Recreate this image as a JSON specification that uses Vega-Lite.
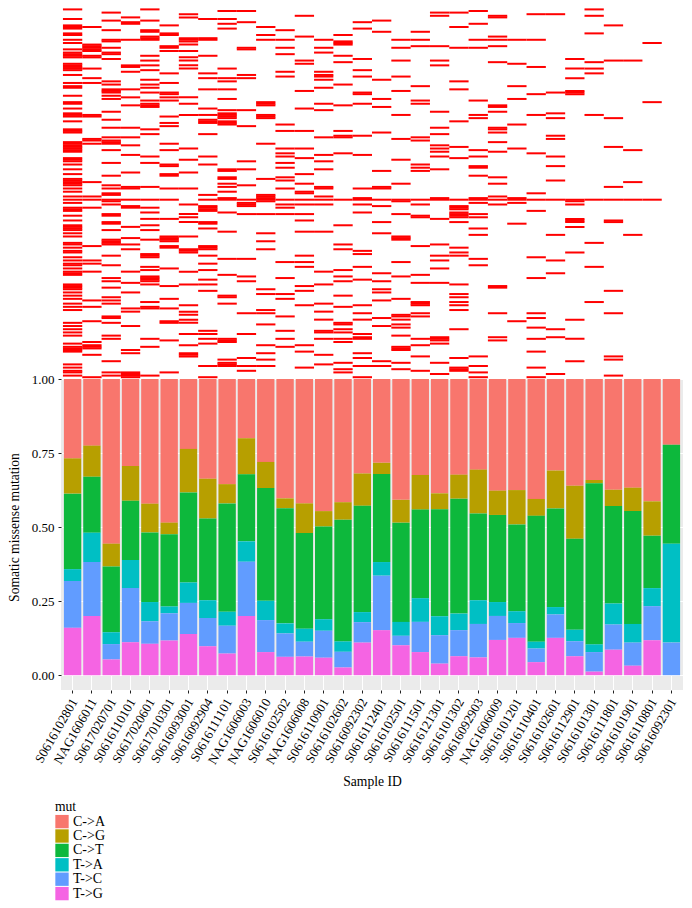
{"$schema":"https://vega.github.io/schema/vega-lite/v6.json","background":"white","padding":{"left":7,"top":7,"right":0,"bottom":0},"spacing":1,"bounds":"flush","config":{"font":"Liberation Serif","view":{"stroke":null}},
"datasets":{"tiles":[
{"c":0,"r":1},{"c":0,"r":7},{"c":0,"r":11},{"c":0,"r":12},{"c":0,"r":13},{"c":0,"r":16},{"c":0,"r":17},{"c":0,"r":20},{"c":0,"r":22},{"c":0,"r":26},{"c":0,"r":28},{"c":0,"r":29},{"c":0,"r":30},{"c":0,"r":31},{"c":0,"r":35},{"c":0,"r":36},{"c":0,"r":37},{"c":0,"r":38},{"c":0,"r":39},{"c":0,"r":42},{"c":0,"r":47},{"c":0,"r":49},{"c":0,"r":50},{"c":0,"r":55},{"c":0,"r":59},{"c":0,"r":60},{"c":0,"r":63},{"c":0,"r":66},{"c":0,"r":67},{"c":0,"r":68},{"c":0,"r":71},{"c":0,"r":76},{"c":0,"r":77},{"c":0,"r":78},{"c":0,"r":84},{"c":0,"r":85},{"c":0,"r":86},{"c":0,"r":87},{"c":0,"r":88},{"c":0,"r":89},{"c":0,"r":90},{"c":0,"r":94},{"c":0,"r":95},{"c":0,"r":96},{"c":0,"r":98},{"c":0,"r":101},{"c":0,"r":104},{"c":0,"r":107},{"c":0,"r":108},{"c":0,"r":109},{"c":0,"r":110},{"c":0,"r":111},{"c":0,"r":113},
{"c":0,"r":115},{"c":0,"r":118},{"c":0,"r":120},{"c":0,"r":122},{"c":0,"r":125},{"c":0,"r":126},{"c":0,"r":127},{"c":0,"r":130},{"c":0,"r":133},{"c":0,"r":136},{"c":0,"r":137},{"c":0,"r":138},{"c":0,"r":139},{"c":0,"r":141},{"c":0,"r":143},{"c":0,"r":147},{"c":0,"r":148},{"c":0,"r":150},{"c":0,"r":152},{"c":0,"r":153},{"c":0,"r":156},{"c":0,"r":158},{"c":0,"r":160},{"c":0,"r":161},{"c":0,"r":163},{"c":0,"r":165},{"c":0,"r":166},{"c":0,"r":167},{"c":0,"r":173},{"c":0,"r":174},{"c":0,"r":175},{"c":0,"r":176},{"c":0,"r":178},{"c":0,"r":180},{"c":0,"r":182},{"c":0,"r":185},{"c":0,"r":187},{"c":0,"r":189},{"c":0,"r":197},{"c":0,"r":199},{"c":0,"r":201},{"c":0,"r":203},{"c":0,"r":205},{"c":0,"r":210},{"c":0,"r":212},{"c":0,"r":213},{"c":0,"r":214},{"c":0,"r":215},{"c":0,"r":223},{"c":0,"r":225},{"c":0,"r":227},{"c":0,"r":228},{"c":0,"r":230},
{"c":1,"r":12},{"c":1,"r":23},{"c":1,"r":24},{"c":1,"r":25},{"c":1,"r":26},{"c":1,"r":27},{"c":1,"r":30},{"c":1,"r":31},{"c":1,"r":38},{"c":1,"r":44},{"c":1,"r":47},{"c":1,"r":67},{"c":1,"r":68},{"c":1,"r":82},{"c":1,"r":83},{"c":1,"r":85},{"c":1,"r":109},{"c":1,"r":118},{"c":1,"r":120},{"c":1,"r":125},{"c":1,"r":149},{"c":1,"r":158},{"c":1,"r":160},{"c":1,"r":165},{"c":1,"r":183},{"c":1,"r":187},{"c":1,"r":196},{"c":1,"r":209},{"c":1,"r":211},{"c":1,"r":212},{"c":1,"r":213},{"c":1,"r":217},{"c":1,"r":231},
{"c":2,"r":3},{"c":2,"r":8},{"c":2,"r":14},{"c":2,"r":20},{"c":2,"r":21},{"c":2,"r":25},{"c":2,"r":28},{"c":2,"r":29},{"c":2,"r":32},{"c":2,"r":46},{"c":2,"r":48},{"c":2,"r":51},{"c":2,"r":52},{"c":2,"r":53},{"c":2,"r":55},{"c":2,"r":57},{"c":2,"r":65},{"c":2,"r":70},{"c":2,"r":75},{"c":2,"r":81},{"c":2,"r":83},{"c":2,"r":84},{"c":2,"r":85},{"c":2,"r":89},{"c":2,"r":97},{"c":2,"r":105},{"c":2,"r":111},{"c":2,"r":113},{"c":2,"r":116},{"c":2,"r":117},{"c":2,"r":120},{"c":2,"r":121},{"c":2,"r":123},{"c":2,"r":129},{"c":2,"r":130},{"c":2,"r":134},{"c":2,"r":135},{"c":2,"r":139},{"c":2,"r":145},{"c":2,"r":146},{"c":2,"r":147},{"c":2,"r":148},{"c":2,"r":155},{"c":2,"r":161},{"c":2,"r":169},{"c":2,"r":171},{"c":2,"r":175},{"c":2,"r":181},{"c":2,"r":183},{"c":2,"r":185},{"c":2,"r":193},{"c":2,"r":194},{"c":2,"r":197},{"c":2,"r":205},{"c":2,"r":207},{"c":2,"r":221},{"c":2,"r":228},{"c":2,"r":230},
{"c":3,"r":6},{"c":3,"r":9},{"c":3,"r":10},{"c":3,"r":20},{"c":3,"r":36},{"c":3,"r":37},{"c":3,"r":40},{"c":3,"r":51},{"c":3,"r":56},{"c":3,"r":61},{"c":3,"r":75},{"c":3,"r":81},{"c":3,"r":86},{"c":3,"r":92},{"c":3,"r":103},{"c":3,"r":112},{"c":3,"r":113},{"c":3,"r":120},{"c":3,"r":124},{"c":3,"r":125},{"c":3,"r":137},{"c":3,"r":144},{"c":3,"r":148},{"c":3,"r":151},{"c":3,"r":165},{"c":3,"r":172},{"c":3,"r":178},{"c":3,"r":188},{"c":3,"r":190},{"c":3,"r":199},{"c":3,"r":214},{"c":3,"r":216},{"c":3,"r":228},{"c":3,"r":229},{"c":3,"r":230},{"c":3,"r":231},
{"c":4,"r":1},{"c":4,"r":8},{"c":4,"r":14},{"c":4,"r":15},{"c":4,"r":18},{"c":4,"r":19},{"c":4,"r":20},{"c":4,"r":30},{"c":4,"r":33},{"c":4,"r":36},{"c":4,"r":39},{"c":4,"r":45},{"c":4,"r":48},{"c":4,"r":50},{"c":4,"r":53},{"c":4,"r":58},{"c":4,"r":60},{"c":4,"r":61},{"c":4,"r":62},{"c":4,"r":76},{"c":4,"r":79},{"c":4,"r":93},{"c":4,"r":97},{"c":4,"r":112},{"c":4,"r":120},{"c":4,"r":125},{"c":4,"r":128},{"c":4,"r":132},{"c":4,"r":136},{"c":4,"r":139},{"c":4,"r":145},{"c":4,"r":154},{"c":4,"r":155},{"c":4,"r":156},{"c":4,"r":162},{"c":4,"r":164},{"c":4,"r":168},{"c":4,"r":169},{"c":4,"r":170},{"c":4,"r":171},{"c":4,"r":173},{"c":4,"r":184},{"c":4,"r":187},{"c":4,"r":188},{"c":4,"r":207},{"c":4,"r":212},{"c":4,"r":230},
{"c":5,"r":11},{"c":5,"r":16},{"c":5,"r":17},{"c":5,"r":24},{"c":5,"r":25},{"c":5,"r":27},{"c":5,"r":41},{"c":5,"r":47},{"c":5,"r":53},{"c":5,"r":54},{"c":5,"r":56},{"c":5,"r":58},{"c":5,"r":68},{"c":5,"r":72},{"c":5,"r":74},{"c":5,"r":85},{"c":5,"r":89},{"c":5,"r":98},{"c":5,"r":99},{"c":5,"r":104},{"c":5,"r":105},{"c":5,"r":113},{"c":5,"r":120},{"c":5,"r":132},{"c":5,"r":143},{"c":5,"r":144},{"c":5,"r":145},{"c":5,"r":146},{"c":5,"r":149},{"c":5,"r":150},{"c":5,"r":163},{"c":5,"r":174},{"c":5,"r":182},{"c":5,"r":188},{"c":5,"r":196},{"c":5,"r":197},{"c":5,"r":208},{"c":5,"r":228},
{"c":6,"r":4},{"c":6,"r":6},{"c":6,"r":19},{"c":6,"r":20},{"c":6,"r":21},{"c":6,"r":23},{"c":6,"r":27},{"c":6,"r":31},{"c":6,"r":33},{"c":6,"r":36},{"c":6,"r":38},{"c":6,"r":56},{"c":6,"r":60},{"c":6,"r":67},{"c":6,"r":88},{"c":6,"r":95},{"c":6,"r":103},{"c":6,"r":113},{"c":6,"r":123},{"c":6,"r":129},{"c":6,"r":131},{"c":6,"r":134},{"c":6,"r":143},{"c":6,"r":151},{"c":6,"r":152},{"c":6,"r":153},{"c":6,"r":165},{"c":6,"r":173},{"c":6,"r":186},{"c":6,"r":190},{"c":6,"r":192},{"c":6,"r":195},{"c":6,"r":197},{"c":6,"r":204},{"c":6,"r":211},{"c":6,"r":216},{"c":6,"r":217},{"c":6,"r":218},
{"c":7,"r":7},{"c":7,"r":19},{"c":7,"r":20},{"c":7,"r":30},{"c":7,"r":41},{"c":7,"r":44},{"c":7,"r":51},{"c":7,"r":63},{"c":7,"r":67},{"c":7,"r":70},{"c":7,"r":71},{"c":7,"r":72},{"c":7,"r":79},{"c":7,"r":93},{"c":7,"r":98},{"c":7,"r":117},{"c":7,"r":120},{"c":7,"r":124},{"c":7,"r":125},{"c":7,"r":126},{"c":7,"r":127},{"c":7,"r":134},{"c":7,"r":135},{"c":7,"r":138},{"c":7,"r":149},{"c":7,"r":150},{"c":7,"r":151},{"c":7,"r":155},{"c":7,"r":160},{"c":7,"r":164},{"c":7,"r":170},{"c":7,"r":173},{"c":7,"r":177},{"c":7,"r":202},{"c":7,"r":204},{"c":7,"r":207},{"c":7,"r":210},{"c":7,"r":224},{"c":7,"r":231},
{"c":8,"r":2},{"c":8,"r":7},{"c":8,"r":10},{"c":8,"r":13},{"c":8,"r":38},{"c":8,"r":44},{"c":8,"r":46},{"c":8,"r":51},{"c":8,"r":57},{"c":8,"r":64},{"c":8,"r":66},{"c":8,"r":67},{"c":8,"r":68},{"c":8,"r":69},{"c":8,"r":71},{"c":8,"r":72},{"c":8,"r":73},{"c":8,"r":101},{"c":8,"r":102},{"c":8,"r":106},{"c":8,"r":107},{"c":8,"r":110},{"c":8,"r":112},{"c":8,"r":115},{"c":8,"r":119},{"c":8,"r":120},{"c":8,"r":128},{"c":8,"r":140},{"c":8,"r":157},{"c":8,"r":167},{"c":8,"r":180},{"c":8,"r":181},{"c":8,"r":185},{"c":8,"r":207},{"c":8,"r":208},{"c":8,"r":209},{"c":8,"r":220},{"c":8,"r":222},{"c":8,"r":223},{"c":8,"r":224},
{"c":9,"r":2},{"c":9,"r":9},{"c":9,"r":25},{"c":9,"r":26},{"c":9,"r":42},{"c":9,"r":44},{"c":9,"r":64},{"c":9,"r":74},{"c":9,"r":96},{"c":9,"r":101},{"c":9,"r":111},{"c":9,"r":120},{"c":9,"r":122},{"c":9,"r":123},{"c":9,"r":124},{"c":9,"r":129},{"c":9,"r":157},{"c":9,"r":168},{"c":9,"r":171},{"c":9,"r":191},{"c":9,"r":204},{"c":9,"r":219},{"c":9,"r":224},{"c":9,"r":227},
{"c":10,"r":12},{"c":10,"r":17},{"c":10,"r":20},{"c":10,"r":59},{"c":10,"r":60},{"c":10,"r":61},{"c":10,"r":67},{"c":10,"r":68},{"c":10,"r":69},{"c":10,"r":85},{"c":10,"r":107},{"c":10,"r":117},{"c":10,"r":118},{"c":10,"r":119},{"c":10,"r":120},{"c":10,"r":121},{"c":10,"r":129},{"c":10,"r":141},{"c":10,"r":146},{"c":10,"r":151},{"c":10,"r":176},{"c":10,"r":179},{"c":10,"r":189},{"c":10,"r":191},{"c":10,"r":198},{"c":10,"r":211},{"c":10,"r":216},{"c":10,"r":220},{"c":10,"r":224},
{"c":11,"r":14},{"c":11,"r":20},{"c":11,"r":25},{"c":11,"r":29},{"c":11,"r":40},{"c":11,"r":43},{"c":11,"r":73},{"c":11,"r":77},{"c":11,"r":88},{"c":11,"r":91},{"c":11,"r":93},{"c":11,"r":97},{"c":11,"r":100},{"c":11,"r":106},{"c":11,"r":108},{"c":11,"r":113},{"c":11,"r":120},{"c":11,"r":123},{"c":11,"r":125},{"c":11,"r":129},{"c":11,"r":159},{"c":11,"r":169},{"c":11,"r":179},{"c":11,"r":182},{"c":11,"r":193},{"c":11,"r":202},{"c":11,"r":207},{"c":11,"r":212},
{"c":12,"r":5},{"c":12,"r":18},{"c":12,"r":33},{"c":12,"r":35},{"c":12,"r":52},{"c":12,"r":63},{"c":12,"r":77},{"c":12,"r":88},{"c":12,"r":94},{"c":12,"r":104},{"c":12,"r":110},{"c":12,"r":115},{"c":12,"r":116},{"c":12,"r":120},{"c":12,"r":123},{"c":12,"r":129},{"c":12,"r":133},{"c":12,"r":140},{"c":12,"r":155},{"c":12,"r":159},{"c":12,"r":162},{"c":12,"r":174},{"c":12,"r":177},{"c":12,"r":186},{"c":12,"r":211},{"c":12,"r":215},{"c":12,"r":225},
{"c":13,"r":20},{"c":13,"r":25},{"c":13,"r":28},{"c":13,"r":40},{"c":13,"r":42},{"c":13,"r":43},{"c":13,"r":45},{"c":13,"r":50},{"c":13,"r":60},{"c":13,"r":64},{"c":13,"r":81},{"c":13,"r":92},{"c":13,"r":96},{"c":13,"r":101},{"c":13,"r":112},{"c":13,"r":113},{"c":13,"r":118},{"c":13,"r":120},{"c":13,"r":123},{"c":13,"r":140},{"c":13,"r":165},{"c":13,"r":173},{"c":13,"r":185},{"c":13,"r":190},{"c":13,"r":195},{"c":13,"r":202},{"c":13,"r":203},{"c":13,"r":207},{"c":13,"r":217},{"c":13,"r":223},
{"c":14,"r":17},{"c":14,"r":21},{"c":14,"r":22},{"c":14,"r":23},{"c":14,"r":30},{"c":14,"r":34},{"c":14,"r":48},{"c":14,"r":61},{"c":14,"r":77},{"c":14,"r":80},{"c":14,"r":81},{"c":14,"r":91},{"c":14,"r":120},{"c":14,"r":136},{"c":14,"r":148},{"c":14,"r":151},{"c":14,"r":164},{"c":14,"r":168},{"c":14,"r":171},{"c":14,"r":180},{"c":14,"r":187},{"c":14,"r":197},{"c":14,"r":198},{"c":14,"r":201},{"c":14,"r":203},{"c":14,"r":207},{"c":14,"r":209},{"c":14,"r":222},{"c":14,"r":226},{"c":14,"r":228},
{"c":15,"r":9},{"c":15,"r":13},{"c":15,"r":32},{"c":15,"r":39},{"c":15,"r":43},{"c":15,"r":53},{"c":15,"r":54},{"c":15,"r":60},{"c":15,"r":80},{"c":15,"r":92},{"c":15,"r":113},{"c":15,"r":119},{"c":15,"r":120},{"c":15,"r":123},{"c":15,"r":128},{"c":15,"r":152},{"c":15,"r":154},{"c":15,"r":162},{"c":15,"r":170},{"c":15,"r":186},{"c":15,"r":191},{"c":15,"r":195},{"c":15,"r":204},{"c":15,"r":206},{"c":15,"r":207},{"c":15,"r":216},{"c":15,"r":219},{"c":15,"r":224},{"c":15,"r":231},
{"c":16,"r":8},{"c":16,"r":15},{"c":16,"r":45},{"c":16,"r":57},{"c":16,"r":62},{"c":16,"r":78},{"c":16,"r":102},{"c":16,"r":112},{"c":16,"r":113},{"c":16,"r":120},{"c":16,"r":124},{"c":16,"r":134},{"c":16,"r":141},{"c":16,"r":166},{"c":16,"r":171},{"c":16,"r":176},{"c":16,"r":178},{"c":16,"r":183},{"c":16,"r":194},{"c":16,"r":199},{"c":16,"r":221},{"c":16,"r":224},
{"c":17,"r":20},{"c":17,"r":25},{"c":17,"r":33},{"c":17,"r":43},{"c":17,"r":52},{"c":17,"r":67},{"c":17,"r":82},{"c":17,"r":95},{"c":17,"r":110},{"c":17,"r":120},{"c":17,"r":121},{"c":17,"r":129},{"c":17,"r":143},{"c":17,"r":144},{"c":17,"r":145},{"c":17,"r":159},{"c":17,"r":168},{"c":17,"r":182},{"c":17,"r":192},{"c":17,"r":193},{"c":17,"r":195},{"c":17,"r":198},{"c":17,"r":200},{"c":17,"r":205},{"c":17,"r":212},{"c":17,"r":213},{"c":17,"r":214},{"c":17,"r":222},{"c":17,"r":226},
{"c":18,"r":15},{"c":18,"r":20},{"c":18,"r":24},{"c":18,"r":49},{"c":18,"r":58},{"c":18,"r":60},{"c":18,"r":81},{"c":18,"r":83},{"c":18,"r":98},{"c":18,"r":100},{"c":18,"r":102},{"c":18,"r":120},{"c":18,"r":123},{"c":18,"r":130},{"c":18,"r":131},{"c":18,"r":149},{"c":18,"r":167},{"c":18,"r":172},{"c":18,"r":184},{"c":18,"r":185},{"c":18,"r":186},{"c":18,"r":191},{"c":18,"r":193},{"c":18,"r":207},{"c":18,"r":211},{"c":18,"r":218},{"c":18,"r":227},
{"c":19,"r":3},{"c":19,"r":5},{"c":19,"r":24},{"c":19,"r":33},{"c":19,"r":36},{"c":19,"r":65},{"c":19,"r":75},{"c":19,"r":79},{"c":19,"r":86},{"c":19,"r":88},{"c":19,"r":90},{"c":19,"r":93},{"c":19,"r":101},{"c":19,"r":119},{"c":19,"r":120},{"c":19,"r":132},{"c":19,"r":148},{"c":19,"r":155},{"c":19,"r":158},{"c":19,"r":163},{"c":19,"r":172},{"c":19,"r":206},{"c":19,"r":207},{"c":19,"r":208},{"c":19,"r":210},{"c":19,"r":222},{"c":19,"r":229},
{"c":20,"r":3},{"c":20,"r":12},{"c":20,"r":25},{"c":20,"r":46},{"c":20,"r":51},{"c":20,"r":71},{"c":20,"r":87},{"c":20,"r":94},{"c":20,"r":120},{"c":20,"r":124},{"c":20,"r":125},{"c":20,"r":126},{"c":20,"r":128},{"c":20,"r":129},{"c":20,"r":130},{"c":20,"r":131},{"c":20,"r":134},{"c":20,"r":150},{"c":20,"r":153},{"c":20,"r":155},{"c":20,"r":173},{"c":20,"r":179},{"c":20,"r":181},{"c":20,"r":184},{"c":20,"r":186},{"c":20,"r":189},{"c":20,"r":201},{"c":20,"r":219},{"c":20,"r":225},{"c":20,"r":226},{"c":20,"r":227},
{"c":21,"r":2},{"c":21,"r":10},{"c":21,"r":20},{"c":21,"r":25},{"c":21,"r":58},{"c":21,"r":67},{"c":21,"r":69},{"c":21,"r":89},{"c":21,"r":93},{"c":21,"r":99},{"c":21,"r":100},{"c":21,"r":105},{"c":21,"r":119},{"c":21,"r":120},{"c":21,"r":122},{"c":21,"r":129},{"c":21,"r":131},{"c":21,"r":138},{"c":21,"r":142},{"c":21,"r":157},{"c":21,"r":161},{"c":21,"r":218},{"c":21,"r":224},{"c":21,"r":228},{"c":21,"r":231},
{"c":22,"r":5},{"c":22,"r":6},{"c":22,"r":18},{"c":22,"r":20},{"c":22,"r":24},{"c":22,"r":34},{"c":22,"r":61},{"c":22,"r":62},{"c":22,"r":65},{"c":22,"r":75},{"c":22,"r":76},{"c":22,"r":78},{"c":22,"r":84},{"c":22,"r":90},{"c":22,"r":106},{"c":22,"r":110},{"c":22,"r":118},{"c":22,"r":120},{"c":22,"r":123},{"c":22,"r":174},{"c":22,"r":175},{"c":22,"r":191},{"c":22,"r":206},{"c":22,"r":208},
{"c":23,"r":20},{"c":23,"r":35},{"c":23,"r":49},{"c":23,"r":57},{"c":23,"r":73},{"c":23,"r":88},{"c":23,"r":119},{"c":23,"r":120},{"c":23,"r":122},{"c":23,"r":135},{"c":23,"r":196},
{"c":24,"r":4},{"c":24,"r":20},{"c":24,"r":37},{"c":24,"r":54},{"c":24,"r":67},{"c":24,"r":91},{"c":24,"r":116},{"c":24,"r":120},{"c":24,"r":127},{"c":24,"r":156},{"c":24,"r":169},{"c":24,"r":191},{"c":24,"r":194},{"c":24,"r":200},{"c":24,"r":207},{"c":24,"r":215},{"c":24,"r":225},{"c":24,"r":231},
{"c":25,"r":4},{"c":25,"r":53},{"c":25,"r":66},{"c":25,"r":69},{"c":25,"r":80},{"c":25,"r":82},{"c":25,"r":93},{"c":25,"r":99},{"c":25,"r":108},{"c":25,"r":120},{"c":25,"r":142},{"c":25,"r":158},{"c":25,"r":166},{"c":25,"r":201},{"c":25,"r":206},{"c":25,"r":229},
{"c":26,"r":32},{"c":26,"r":38},{"c":26,"r":44},{"c":26,"r":52},{"c":26,"r":53},{"c":26,"r":54},{"c":26,"r":120},{"c":26,"r":121},{"c":26,"r":123},{"c":26,"r":132},{"c":26,"r":133},{"c":26,"r":134},{"c":26,"r":137},{"c":26,"r":153},{"c":26,"r":195},{"c":26,"r":207},{"c":26,"r":221},
{"c":27,"r":1},{"c":27,"r":5},{"c":27,"r":16},{"c":27,"r":34},{"c":27,"r":38},{"c":27,"r":41},{"c":27,"r":67},{"c":27,"r":120},{"c":27,"r":147},{"c":27,"r":162},{"c":27,"r":184},
{"c":28,"r":11},{"c":28,"r":33},{"c":28,"r":69},{"c":28,"r":87},{"c":28,"r":112},{"c":28,"r":120},{"c":28,"r":133},{"c":28,"r":134},{"c":28,"r":177},{"c":28,"r":191},{"c":28,"r":218},{"c":28,"r":220},{"c":28,"r":230},
{"c":29,"r":33},{"c":29,"r":89},{"c":29,"r":109},{"c":29,"r":120},{"c":29,"r":142},
{"c":30,"r":22},{"c":30,"r":59},{"c":30,"r":120}
],"bars":[
{"s":"S0616102801","m":"C->A","v":0.268},{"s":"S0616102801","m":"C->G","v":0.119},{"s":"S0616102801","m":"C->T","v":0.255},{"s":"S0616102801","m":"T->A","v":0.040},{"s":"S0616102801","m":"T->C","v":0.158},{"s":"S0616102801","m":"T->G","v":0.160},
{"s":"NAG1606011","m":"C->A","v":0.225},{"s":"NAG1606011","m":"C->G","v":0.105},{"s":"NAG1606011","m":"C->T","v":0.189},{"s":"NAG1606011","m":"T->A","v":0.099},{"s":"NAG1606011","m":"T->C","v":0.182},{"s":"NAG1606011","m":"T->G","v":0.200},
{"s":"S0617020701","m":"C->A","v":0.556},{"s":"S0617020701","m":"C->G","v":0.077},{"s":"S0617020701","m":"C->T","v":0.222},{"s":"S0617020701","m":"T->A","v":0.040},{"s":"S0617020701","m":"T->C","v":0.052},{"s":"S0617020701","m":"T->G","v":0.053},
{"s":"S0616110101","m":"C->A","v":0.294},{"s":"S0616110101","m":"C->G","v":0.117},{"s":"S0616110101","m":"C->T","v":0.200},{"s":"S0616110101","m":"T->A","v":0.095},{"s":"S0616110101","m":"T->C","v":0.183},{"s":"S0616110101","m":"T->G","v":0.111},
{"s":"S0617020601","m":"C->A","v":0.421},{"s":"S0617020601","m":"C->G","v":0.097},{"s":"S0617020601","m":"C->T","v":0.235},{"s":"S0617020601","m":"T->A","v":0.065},{"s":"S0617020601","m":"T->C","v":0.076},{"s":"S0617020601","m":"T->G","v":0.106},
{"s":"S0617010301","m":"C->A","v":0.485},{"s":"S0617010301","m":"C->G","v":0.039},{"s":"S0617010301","m":"C->T","v":0.244},{"s":"S0617010301","m":"T->A","v":0.023},{"s":"S0617010301","m":"T->C","v":0.092},{"s":"S0617010301","m":"T->G","v":0.117},
{"s":"S0616093001","m":"C->A","v":0.236},{"s":"S0616093001","m":"C->G","v":0.147},{"s":"S0616093001","m":"C->T","v":0.304},{"s":"S0616093001","m":"T->A","v":0.069},{"s":"S0616093001","m":"T->C","v":0.105},{"s":"S0616093001","m":"T->G","v":0.139},
{"s":"S0616092904","m":"C->A","v":0.337},{"s":"S0616092904","m":"C->G","v":0.134},{"s":"S0616092904","m":"C->T","v":0.276},{"s":"S0616092904","m":"T->A","v":0.060},{"s":"S0616092904","m":"T->C","v":0.095},{"s":"S0616092904","m":"T->G","v":0.098},
{"s":"S0616111101","m":"C->A","v":0.355},{"s":"S0616111101","m":"C->G","v":0.065},{"s":"S0616111101","m":"C->T","v":0.366},{"s":"S0616111101","m":"T->A","v":0.047},{"s":"S0616111101","m":"T->C","v":0.094},{"s":"S0616111101","m":"T->G","v":0.073},
{"s":"NAG1606003","m":"C->A","v":0.200},{"s":"NAG1606003","m":"C->G","v":0.122},{"s":"NAG1606003","m":"C->T","v":0.226},{"s":"NAG1606003","m":"T->A","v":0.069},{"s":"NAG1606003","m":"T->C","v":0.183},{"s":"NAG1606003","m":"T->G","v":0.200},
{"s":"NAG1606010","m":"C->A","v":0.280},{"s":"NAG1606010","m":"C->G","v":0.088},{"s":"NAG1606010","m":"C->T","v":0.381},{"s":"NAG1606010","m":"T->A","v":0.065},{"s":"NAG1606010","m":"T->C","v":0.108},{"s":"NAG1606010","m":"T->G","v":0.078},
{"s":"S0616102502","m":"C->A","v":0.403},{"s":"S0616102502","m":"C->G","v":0.033},{"s":"S0616102502","m":"C->T","v":0.389},{"s":"S0616102502","m":"T->A","v":0.034},{"s":"S0616102502","m":"T->C","v":0.079},{"s":"S0616102502","m":"T->G","v":0.062},
{"s":"NAG1606008","m":"C->A","v":0.420},{"s":"NAG1606008","m":"C->G","v":0.100},{"s":"NAG1606008","m":"C->T","v":0.323},{"s":"NAG1606008","m":"T->A","v":0.044},{"s":"NAG1606008","m":"T->C","v":0.050},{"s":"NAG1606008","m":"T->G","v":0.063},
{"s":"S0616110901","m":"C->A","v":0.446},{"s":"S0616110901","m":"C->G","v":0.052},{"s":"S0616110901","m":"C->T","v":0.313},{"s":"S0616110901","m":"T->A","v":0.039},{"s":"S0616110901","m":"T->C","v":0.091},{"s":"S0616110901","m":"T->G","v":0.059},
{"s":"S0616102602","m":"C->A","v":0.416},{"s":"S0616102602","m":"C->G","v":0.059},{"s":"S0616102602","m":"C->T","v":0.411},{"s":"S0616102602","m":"T->A","v":0.035},{"s":"S0616102602","m":"T->C","v":0.053},{"s":"S0616102602","m":"T->G","v":0.026},
{"s":"S0616092302","m":"C->A","v":0.319},{"s":"S0616092302","m":"C->G","v":0.109},{"s":"S0616092302","m":"C->T","v":0.359},{"s":"S0616092302","m":"T->A","v":0.034},{"s":"S0616092302","m":"T->C","v":0.069},{"s":"S0616092302","m":"T->G","v":0.110},
{"s":"S0616112401","m":"C->A","v":0.283},{"s":"S0616112401","m":"C->G","v":0.038},{"s":"S0616112401","m":"C->T","v":0.297},{"s":"S0616112401","m":"T->A","v":0.046},{"s":"S0616112401","m":"T->C","v":0.184},{"s":"S0616112401","m":"T->G","v":0.152},
{"s":"S0616102501","m":"C->A","v":0.408},{"s":"S0616102501","m":"C->G","v":0.077},{"s":"S0616102501","m":"C->T","v":0.335},{"s":"S0616102501","m":"T->A","v":0.047},{"s":"S0616102501","m":"T->C","v":0.032},{"s":"S0616102501","m":"T->G","v":0.101},
{"s":"S0616111501","m":"C->A","v":0.324},{"s":"S0616111501","m":"C->G","v":0.117},{"s":"S0616111501","m":"C->T","v":0.299},{"s":"S0616111501","m":"T->A","v":0.080},{"s":"S0616111501","m":"T->C","v":0.102},{"s":"S0616111501","m":"T->G","v":0.078},
{"s":"S0616121301","m":"C->A","v":0.386},{"s":"S0616121301","m":"C->G","v":0.054},{"s":"S0616121301","m":"C->T","v":0.361},{"s":"S0616121301","m":"T->A","v":0.064},{"s":"S0616121301","m":"T->C","v":0.096},{"s":"S0616121301","m":"T->G","v":0.039},
{"s":"S0616101302","m":"C->A","v":0.323},{"s":"S0616101302","m":"C->G","v":0.081},{"s":"S0616101302","m":"C->T","v":0.388},{"s":"S0616101302","m":"T->A","v":0.056},{"s":"S0616101302","m":"T->C","v":0.088},{"s":"S0616101302","m":"T->G","v":0.064},
{"s":"S0616092903","m":"C->A","v":0.306},{"s":"S0616092903","m":"C->G","v":0.148},{"s":"S0616092903","m":"C->T","v":0.293},{"s":"S0616092903","m":"T->A","v":0.080},{"s":"S0616092903","m":"T->C","v":0.113},{"s":"S0616092903","m":"T->G","v":0.060},
{"s":"NAG1606009","m":"C->A","v":0.377},{"s":"NAG1606009","m":"C->G","v":0.082},{"s":"NAG1606009","m":"C->T","v":0.294},{"s":"NAG1606009","m":"T->A","v":0.047},{"s":"NAG1606009","m":"T->C","v":0.081},{"s":"NAG1606009","m":"T->G","v":0.119},
{"s":"S0616101201","m":"C->A","v":0.375},{"s":"S0616101201","m":"C->G","v":0.116},{"s":"S0616101201","m":"C->T","v":0.293},{"s":"S0616101201","m":"T->A","v":0.040},{"s":"S0616101201","m":"T->C","v":0.050},{"s":"S0616101201","m":"T->G","v":0.126},
{"s":"S0616110401","m":"C->A","v":0.405},{"s":"S0616110401","m":"C->G","v":0.057},{"s":"S0616110401","m":"C->T","v":0.425},{"s":"S0616110401","m":"T->A","v":0.023},{"s":"S0616110401","m":"T->C","v":0.046},{"s":"S0616110401","m":"T->G","v":0.044},
{"s":"S0616102601","m":"C->A","v":0.309},{"s":"S0616102601","m":"C->G","v":0.128},{"s":"S0616102601","m":"C->T","v":0.333},{"s":"S0616102601","m":"T->A","v":0.025},{"s":"S0616102601","m":"T->C","v":0.079},{"s":"S0616102601","m":"T->G","v":0.126},
{"s":"S0616112901","m":"C->A","v":0.360},{"s":"S0616112901","m":"C->G","v":0.179},{"s":"S0616112901","m":"C->T","v":0.308},{"s":"S0616112901","m":"T->A","v":0.038},{"s":"S0616112901","m":"T->C","v":0.051},{"s":"S0616112901","m":"T->G","v":0.064},
{"s":"S0616101301","m":"C->A","v":0.341},{"s":"S0616101301","m":"C->G","v":0.011},{"s":"S0616101301","m":"C->T","v":0.544},{"s":"S0616101301","m":"T->A","v":0.026},{"s":"S0616101301","m":"T->C","v":0.066},{"s":"S0616101301","m":"T->G","v":0.012},
{"s":"S0616111801","m":"C->A","v":0.374},{"s":"S0616111801","m":"C->G","v":0.055},{"s":"S0616111801","m":"C->T","v":0.329},{"s":"S0616111801","m":"T->A","v":0.071},{"s":"S0616111801","m":"T->C","v":0.085},{"s":"S0616111801","m":"T->G","v":0.086},
{"s":"S0616101901","m":"C->A","v":0.367},{"s":"S0616101901","m":"C->G","v":0.079},{"s":"S0616101901","m":"C->T","v":0.381},{"s":"S0616101901","m":"T->A","v":0.063},{"s":"S0616101901","m":"T->C","v":0.078},{"s":"S0616101901","m":"T->G","v":0.032},
{"s":"S0616110801","m":"C->A","v":0.413},{"s":"S0616110801","m":"C->G","v":0.116},{"s":"S0616110801","m":"C->T","v":0.177},{"s":"S0616110801","m":"T->A","v":0.061},{"s":"S0616110801","m":"T->C","v":0.115},{"s":"S0616110801","m":"T->G","v":0.118},
{"s":"S0616092301","m":"C->A","v":0.222},{"s":"S0616092301","m":"C->T","v":0.334},{"s":"S0616092301","m":"T->A","v":0.334},{"s":"S0616092301","m":"T->C","v":0.110}
]},
"vconcat":[
{"width":622,"height":371,"data":{"name":"tiles"},"mark":{"type":"rect","height":2,"color":"#ff0000"},
"encoding":{"x":{"field":"c","type":"ordinal","axis":null,"scale":{"type":"band","domain":[0,1,2,3,4,5,6,7,8,9,10,11,12,13,14,15,16,17,18,19,20,21,22,23,24,25,26,27,28,29,30,31],"paddingInner":0,"paddingOuter":0.1}},
"y":{"field":"r","type":"quantitative","axis":null,"scale":{"domain":[231.5,-0.5],"nice":false,"zero":false}}}},
{"width":622,"height":311,"view":{"fill":"#EBEBEB","stroke":null},"data":{"name":"bars"},"mark":{"type":"bar"},
"encoding":{
"x":{"field":"s","type":"nominal","sort":null,"title":"Sample ID","scale":{"type":"band","paddingInner":0.1,"paddingOuter":0.15},
"axis":{"labelAngle":-60,"labelAlign":"right","labelBaseline":"middle","labelColor":"black","labelFontSize":13,"labelPadding":6,"labelOffset":2,"labelOverlap":false,"tickColor":"#222","tickSize":3,"domain":false,"grid":true,"gridColor":"white","gridWidth":1,"titleFontSize":13.6,"titleFontWeight":"normal","titleColor":"black","titlePadding":8}},
"y":{"field":"v","type":"quantitative","stack":"zero","title":"Somatic missense mutation","scale":{"domain":[-0.05,1],"nice":false,"zero":false},
"axis":{"values":[0,0.25,0.5,0.75,1],"format":".2f","labelColor":"black","labelFontSize":13,"labelPadding":4,"tickColor":"#222","tickSize":3,"domain":false,"grid":true,"gridColor":"white","gridWidth":1,"titleFontSize":13.6,"titleFontWeight":"normal","titleColor":"black","titlePadding":9.5,"titleY":148}},
"order":{"field":"m","sort":"descending"},
"color":{"field":"m","type":"nominal","title":"mut","scale":{"domain":["C->A","C->G","C->T","T->A","T->C","T->G"],"range":["#F8766D","#B79F00","#0DB83C","#00BFC4","#619CFF","#F564E3"]},
"legend":{"orient":"none","legendX":-6,"legendY":793,"symbolType":"square","symbolSize":178,"symbolStrokeWidth":0,"symbolOpacity":1,"rowPadding":0.4,"titleFontSize":13.6,"titleFontWeight":"normal","titleColor":"black","titlePadding":1,"labelFontSize":14,"labelColor":"black","labelOffset":4}}}}
]}
